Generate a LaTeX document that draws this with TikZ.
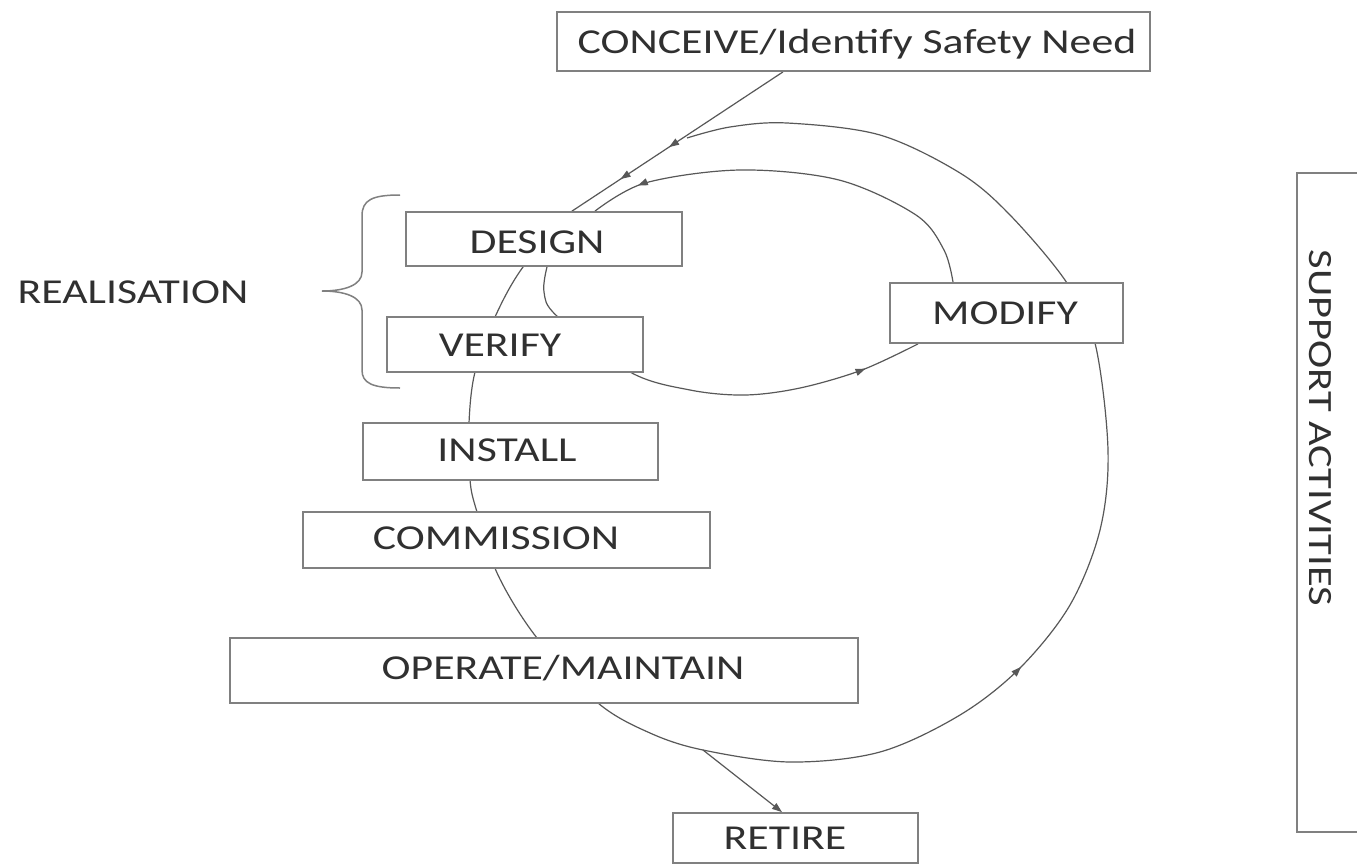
\documentclass[tikz,border=0pt]{standalone}
\usepackage{fontspec}
\setmainfont{Carlito}[FakeStretch=1.25]
\usetikzlibrary{arrows.meta,decorations.markings,backgrounds}

\definecolor{boxline}{HTML}{808080}
\definecolor{flowline}{HTML}{585858}
\definecolor{ink}{HTML}{303030}

\tikzset{
  stage/.style={draw=boxline, line width=1.8pt, fill=white, inner sep=0pt},
  caption/.style={text=ink, font=\fontsize{35}{40}\selectfont, inner sep=0pt,
                  text height=22.5pt, text depth=0pt, anchor=center},
  flow/.style={color=flowline, line width=1.2pt},
  head/.style={-{Triangle[length=10pt,width=7pt]}},
}
\newcommand{\flowtip}{\arrow{Triangle[length=10pt,width=7pt]}}

\begin{document}
\begin{tikzpicture}[x=1pt,y=-1pt]
\clip (0,0) rectangle (1357,865);

% lifecycle stages
\node[stage, minimum width=593pt, minimum height=59pt] (conceive)   at (853.5,41.5) {};
\node[stage, minimum width=276pt, minimum height=54pt] (design)     at (544,239)    {};
\node[stage, minimum width=256pt, minimum height=55pt] (verify)     at (515,344.5)  {};
\node[stage, minimum width=233pt, minimum height=60pt] (modify)     at (1006.5,313) {};
\node[stage, minimum width=295pt, minimum height=57pt] (install)    at (510.5,451.5){};
\node[stage, minimum width=407pt, minimum height=56pt] (commission) at (506.5,540)  {};
\node[stage, minimum width=628pt, minimum height=65pt] (operate)    at (544,670.5)  {};
\node[stage, minimum width=245pt, minimum height=50pt] (retire)     at (795.5,838)  {};
\node[stage, minimum width=103pt, minimum height=659pt] (support)   at (1348.5,502.5) {};

% stage captions
\node[caption] (conceive-t)   at (857,42)  {CONCEIVE/Identify Safety Need};
\node[caption] (design-t)     at (537,242) {DESIGN};
\node[caption] (verify-t)     at (500,345) {VERIFY};
\node[caption] (modify-t)     at (1005,313) {MODIFY};
\node[caption] (install-t)    at (507,450) {INSTALL};
\node[caption] (commission-t) at (496,538) {COMMISSION};
\node[caption] (operate-t)    at (563,668) {OPERATE/MAINTAIN};
\node[caption] (retire-t)     at (785,838) {RETIRE};
\node[caption] (realisation)  at (133,292) {REALISATION};
\node[caption, rotate=-90, font=\fontsize{34}{40}\selectfont]
      (support-t) at (1321,428) {SUPPORT ACTIVITIES};

% brace grouping design and verification
\draw[draw=boxline, line width=1.5pt]
  (400,195) .. controls (372,195) and (362,200) .. (362,216) -- (362,272)
  .. controls (362,285) and (345,291) .. (322,291)
  .. controls (345,291) and (362,297) .. (362,310) -- (362,370)
  .. controls (362,383) and (372,388) .. (400,388);

\begin{scope}[on background layer]
  \fill[white] (0,0) rectangle (1357,865);

  % entry from the safety need into design
  \draw[flow, postaction={decorate}, decoration={markings,
        mark=at position 0.54 with {\flowtip},
        mark=at position 0.77 with {\flowtip}}]
    ([xshift=-70.5pt]conceive.south) -- ([xshift=28pt]design.north);

  % main lifecycle loop
  \coordinate (split) at (703,750);
  \draw[flow, postaction={decorate}, decoration={markings,
        mark=at position 0.545 with {\flowtip}}]
    plot[smooth, tension=0.55] coordinates {
      ([xshift=28pt]design.north) (523,267) (495,317) (475,372) (469,423)
      (470,480) (477,512) (498,575) (537,638) (598,703) (650,733) (split)
      (790,762) (880,752) (960,715) (1020,668) (1070,605) (1100,530)
      (1108,450) (1095,343) (1067,283) (1010,215) (960,173) (880,135)
      (787,123) (730,127) (687,138)};

  % modification loop
  \draw[flow, postaction={decorate}, decoration={markings,
        mark=at position -50pt with {\flowtip}}]
    plot[smooth, tension=0.55] coordinates {
      ([xshift=-53.5pt]modify.north) (944,250) (916,215) (839,180) (740,170)
      (645,183) ([xshift=51pt]design.north)};
  \draw[flow, postaction={decorate}, decoration={markings,
        mark=at position -58pt with {\flowtip}}]
    plot[smooth, tension=0.55] coordinates {
      ([xshift=3pt]design.south) (544,292) ([xshift=42pt]verify.north)
      (630,372) (690,390) (745,395) (800,388) (862,370)
      ([xshift=-88.5pt]modify.south)};

  % retirement
  \draw[flow, head] (split) -- ([xshift=-13.5pt]retire.north);
\end{scope}
\end{tikzpicture}
\end{document}
